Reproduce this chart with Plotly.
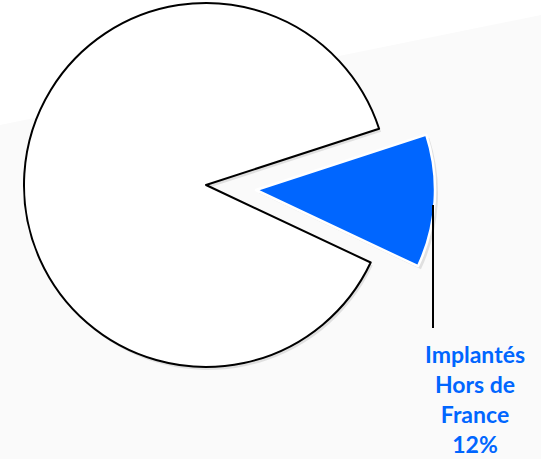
import plotly.graph_objects as go

labels = ["Implantés Hors de France", "Implantés en France"]
values = [12, 88]
label_lines = ["Implantés", "Hors de", "France"]

BLUE = "#0066FF"
W, H = 541, 459
NONE = "rgba(0,0,0,0)"
SHADOW = "rgba(0,0,0,0.10)"

def pie(colors, line_colors, line_widths, dom_px):
    x0, y0, x1, y1 = dom_px
    return go.Pie(
        values=values, labels=labels, sort=False, direction="clockwise", rotation=72,
        marker=dict(colors=colors, line=dict(color=line_colors, width=line_widths)),
        textinfo="none", hoverinfo="label+percent", showlegend=False,
        domain=dict(x=[x0 / W, x1 / W], y=[1 - y1 / H, 1 - y0 / H]),
    )

fig = go.Figure()
# soft shadows
fig.add_trace(pie([NONE, SHADOW], [NONE, NONE], [0, 0], (26, 6, 390, 370)))
fig.add_trace(pie([SHADOW, NONE], [NONE, NONE], [0, 0], (80, 14, 438, 372)))
# main (white) pie: blue slice is transparent here
fig.add_trace(pie([NONE, "#FFFFFF"], [NONE, "#000000"], [0, 2], (24, 3, 388, 367)))
# exploded (blue) slice
fig.add_trace(pie([BLUE, NONE], ["#FFFFFF", NONE], [2.5, 0], (77, 11, 435, 369)))

label_text = "<br>".join(label_lines) + f"<br>{values[0]}%"
fig.add_annotation(
    x=475 / W, y=1 - 399 / H, xref="paper", yref="paper",
    text=label_text, showarrow=False,
    font=dict(family="Lato, Open Sans, sans-serif", size=23, color=BLUE, weight="bold"),
    align="center", xanchor="center", yanchor="middle",
)

fig.update_layout(
    width=W, height=H,
    margin=dict(l=0, r=0, t=0, b=0),
    paper_bgcolor="#FFFFFF", plot_bgcolor="#FFFFFF",
    shapes=[
        dict(type="path", xref="paper", yref="paper", layer="below",
             path=f"M 0 {1-125/H} L 1 {1-15/H} L 1 0 L 0 0 Z",
             fillcolor="#FAFAFA", line=dict(width=0)),
        dict(type="line", xref="paper", yref="paper",
             x0=433 / W, x1=433 / W, y0=1 - 205 / H, y1=1 - 328 / H,
             line=dict(color="#000000", width=2)),
    ],
)

fig.write_html("out.html", config={"displayModeBar": False},
               post_script="document.body.style.margin='0';document.body.style.overflow='hidden';")
